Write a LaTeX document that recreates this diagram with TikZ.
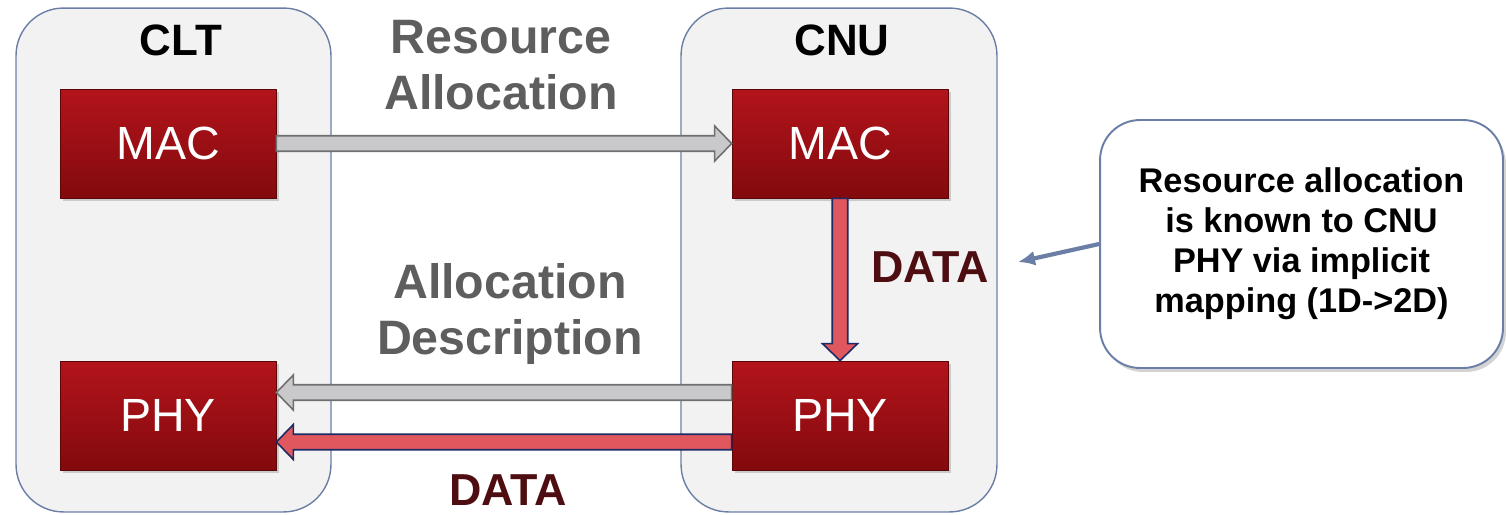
\documentclass[tikz,border=0pt]{standalone}
\usepackage{fontspec}
\setmainfont{Liberation Sans}
\usepackage{tikz}
\usetikzlibrary{arrows.meta,shadows,calc}

\definecolor{unitfill}{HTML}{F2F2F2}
\definecolor{unitline}{HTML}{6B7FA6}
\definecolor{boxtop}{HTML}{B3141B}
\definecolor{boxbot}{HTML}{820A0E}
\definecolor{grayfill}{HTML}{C9C9CB}
\definecolor{grayline}{HTML}{6F6F6F}
\definecolor{redfill}{HTML}{E0585D}
\definecolor{navyline}{HTML}{1C2A66}
\definecolor{datared}{HTML}{4E0E11}
\definecolor{labelgray}{HTML}{5E5E5E}

\tikzset{
  unit/.style = {draw=unitline, fill=unitfill, line width=0.8pt, rounded corners=0.95cm,
    minimum height=10.08cm},
  layer/.style = {draw=boxbot!70!black, top color=boxtop, bottom color=boxbot,
    minimum width=4.32cm, minimum height=2.18cm, text=white,
    font=\fontsize{26.5}{30}\selectfont,
    drop shadow={opacity=0.35, shadow xshift=0.06cm, shadow yshift=-0.06cm}},
  unitname/.style = {font=\bfseries\fontsize{25}{30}\selectfont},
  msg/.style = {text=labelgray, align=center, font=\bfseries\fontsize{27.5}{31.7}\selectfont},
  datalabel/.style = {text=datared, font=\bfseries\fontsize{25.5}{30}\selectfont},
  note/.style = {draw=unitline, fill=white, line width=1.1pt, rounded corners=0.8cm,
    minimum width=8.06cm, minimum height=4.96cm, align=center,
    font=\bfseries\fontsize{19.5}{22.8}\selectfont,
    drop shadow={opacity=0.35, shadow xshift=0.06cm, shadow yshift=-0.08cm}},
  grayarrow/.style = {draw=grayline, fill=grayfill, line width=0.9pt},
  redarrow/.style = {draw=navyline, fill=redfill, line width=0.9pt}
}

% block arrow: style, from, to
\newcommand\blockarrow[3]{%
  \draw[#1] let \p1=#2, \p2=#3, \n1={atan2(\y2-\y1,\x2-\x1)},
    \n2={veclen(\x2-\x1,\y2-\y1)} in
    (\p1) ++(\n1+90:0.155cm) -- ++(\n1:\n2-0.34cm) -- ++(\n1+90:0.195cm) -- (\p2)
    -- ($(\p2)+(\n1+180:0.34cm)+(\n1-90:0.35cm)$) -- ++(\n1+90:0.195cm)
    -- ++(\n1+180:\n2-0.34cm) -- cycle;}

\begin{document}
\begin{tikzpicture}[x=0.02cm, y=-0.02cm]
\useasboundingbox (0,0) rectangle (1506,514);
\clip (0,0) rectangle (1506,514);

\node[unit, minimum width=6.3cm] (clt) at (173.5,260) {};
\node[unit, minimum width=6.32cm] (cnu) at (839,260) {};

\node[unitname] (cltname) at (181,40) {CLT};
\node[unitname] (cnuname) at (842,40) {CNU};

\node[layer] (macL) at (168,143.5) {MAC};
\node[layer] (phyL) at (168,415.5) {PHY};
\node[layer] (macR) at (840,143.5) {MAC};
\node[layer] (phyR) at (840,415.5) {PHY};

\node[msg] (alloc) at (501,65) {Resource\\Allocation};
\node[msg] (descr) at (510,314) {Allocation\\Description};
\node[datalabel] (dataR) at (930,267) {DATA};
\node[datalabel] (dataB) at (508,490) {DATA};

\blockarrow{grayarrow}{(macL.east)}{(macR.west)}
\blockarrow{redarrow}{(macR.south)}{(phyR.north)}
\blockarrow{grayarrow}{([yshift=0.46cm]phyR.west)}{([yshift=0.46cm]phyL.east)}
\blockarrow{redarrow}{([yshift=-0.53cm]phyR.west)}{([yshift=-0.53cm]phyL.east)}

\node[note] (known) at (1301.5,244) {Resource allocation\\is known to CNU\\PHY via implicit\\mapping (1D->2D)};
\coordinate (knownend) at (1018,262);
\draw[unitline, line width=2.4pt, -{Latex[length=0.34cm, width=0.3cm]}] (known.west) -- (knownend);
\end{tikzpicture}
\end{document}
